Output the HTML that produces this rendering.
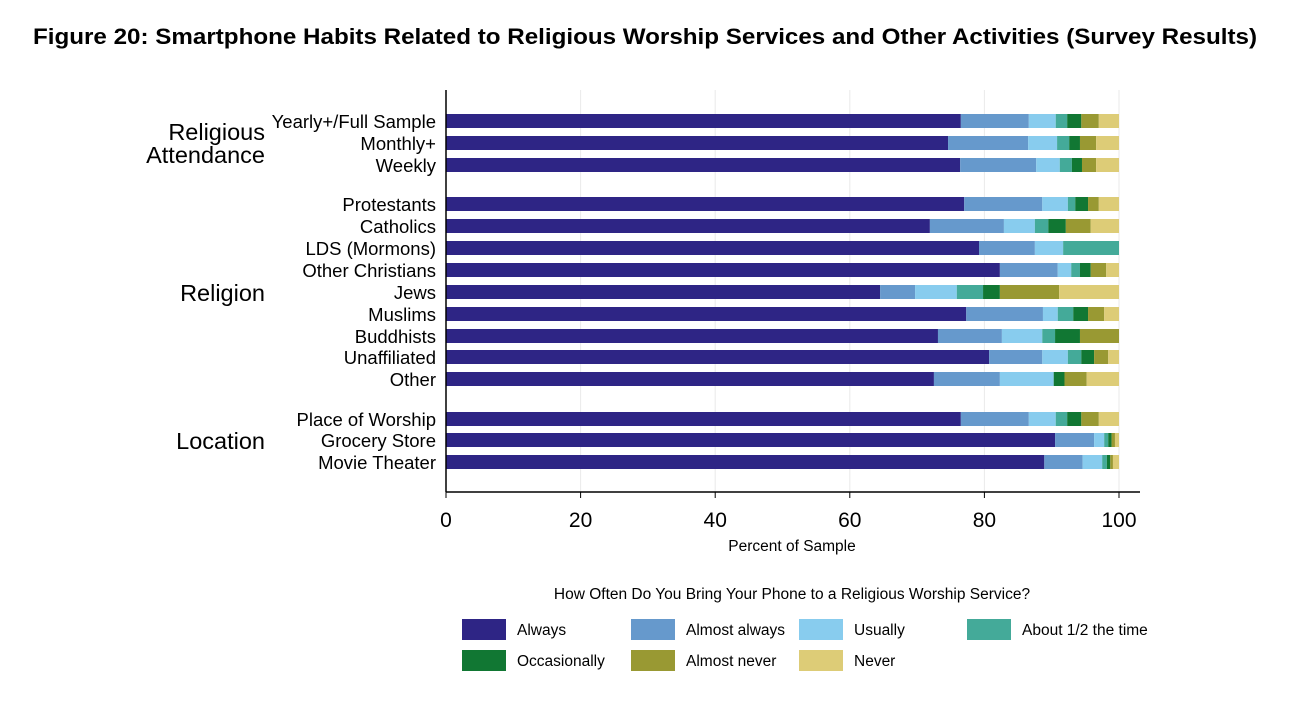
<!DOCTYPE html>
<html><head><meta charset="utf-8"><style>
body{margin:0;background:#fff;width:1304px;height:703px;overflow:hidden;font-family:"Liberation Sans",Arial,sans-serif}
</style></head><body>
<svg id="chart" width="1304" height="703" xmlns="http://www.w3.org/2000/svg" font-family="Liberation Sans, Arial, sans-serif">
<text x="33" y="44" textLength="1224" lengthAdjust="spacingAndGlyphs" font-size="22" font-weight="bold" fill="#000">Figure 20: Smartphone Habits Related to Religious Worship Services and Other Activities (Survey Results)</text>
<g id="grid"></g><g id="bars"></g><g id="labels"></g><g id="axis"></g><g id="legend"></g>
</svg>
<script>
const categories=["Yearly+/Full Sample","Monthly+","Weekly","Protestants","Catholics","LDS (Mormons)","Other Christians","Jews","Muslims","Buddhists","Unaffiliated","Other","Place of Worship","Grocery Store","Movie Theater"];
const seriesNames=["Always","Almost always","Usually","About 1/2 the time","Occasionally","Almost never","Never"];
const always=[76.5,74.6,76.4,77.0,71.9,79.2,82.3,64.5,77.3,73.1,80.7,72.5,76.5,90.5,88.9];
const almostAlways=[10.1,11.9,11.3,11.6,11.0,8.3,8.6,5.2,11.4,9.5,7.9,9.8,10.1,5.8,5.7];
const usually=[4.0,4.3,3.5,3.8,4.6,4.2,2.0,6.2,2.2,6.0,3.8,8.0,4.0,1.5,2.9];
const aboutHalf=[1.7,1.8,1.8,1.1,2.0,8.3,1.3,3.9,2.3,1.9,2.0,0,1.7,0.6,0.7];
const occasionally=[2.1,1.6,1.5,1.9,2.6,0,1.6,2.5,2.2,3.7,1.9,1.6,2.1,0.5,0.5];
const almostNever=[2.6,2.4,2.1,1.6,3.7,0,2.3,8.8,2.4,5.8,2.1,3.3,2.6,0.5,0.4];
const never=[3.0,3.4,3.4,3.0,4.2,0,1.9,8.9,2.2,0,1.6,4.8,3.0,0.6,0.9];
const xTicks=[0,20,40,60,80,100];
const groups=[["Religious","Attendance"],["Religion"],["Location"]];

const colors=["#2e2585","#6699cc","#88ccee","#44aa99","#117733","#999933","#ddcc77"];
const series=[always,almostAlways,usually,aboutHalf,occasionally,almostNever,never];
const NS="http://www.w3.org/2000/svg";
const X0=446,X1=1119;
const xs=v=>X0+(X1-X0)*v/100;
const rowY=[121,143,165,204,226,248,270,292,314,336,357,379,419,440,462];
const ys=i=>rowY[i];
function mk(t,a,p){const e=document.createElementNS(NS,t);for(const k in a)e.setAttribute(k,a[k]);p.appendChild(e);return e;}
const grid=document.getElementById('grid'),bars=document.getElementById('bars'),labels=document.getElementById('labels'),axis=document.getElementById('axis'),legend=document.getElementById('legend');
xTicks.forEach(t=>{if(t>0){const g=mk('line',{x1:xs(t),x2:xs(t),y1:90,y2:492,stroke:'#eaeaea','stroke-width':1},grid);

}
const tk=mk('line',{x1:xs(t),x2:xs(t),y1:492,y2:498,stroke:'#000'},axis);


const tl=mk('text',{x:xs(t),y:527,'text-anchor':'middle','font-size':21,fill:'#000'},axis);tl.textContent=t;

});
categories.forEach((c,i)=>{let acc=0;series.forEach((s,k)=>{const v=s[i];if(v>0){const r=mk('rect',{x:xs(acc),y:ys(i)-7,width:xs(acc+v)-xs(acc),height:14,fill:colors[k]},bars);

}acc+=v;});
const l=mk('text',{x:436,y:ys(i)+7,'text-anchor':'end','font-size':18.5,fill:'#000'},labels);l.textContent=c;

});
const gy=[[140,163],[301],[449]];
groups.forEach((g,i)=>g.forEach((w,j)=>{const t=mk('text',{x:265,y:gy[i][j],'text-anchor':'end','font-size':23.5,fill:'#000'},labels);t.textContent=w;

}));
const ya=mk('line',{x1:446,x2:446,y1:90,y2:492,stroke:'#000','stroke-width':1.5},axis);


const xa=mk('line',{x1:446,x2:1140,y1:492,y2:492,stroke:'#000','stroke-width':1.5},axis);


const xt=mk('text',{x:792,y:551,'text-anchor':'middle','font-size':15.5,fill:'#000'},axis);xt.textContent="Percent of Sample";


const lt=mk('text',{x:792,y:599,'text-anchor':'middle','font-size':15.5,fill:'#000'},legend);lt.textContent="How Often Do You Bring Your Phone to a Religious Worship Service?";


const lx=[462,631,799,967],lyy=[629,660];
seriesNames.forEach((n,k)=>{const x=lx[k%4],y=lyy[Math.floor(k/4)];
const sw=mk('rect',{x:x,y:y-10,width:44,height:21,fill:colors[k]},legend);


const t=mk('text',{x:x+55,y:y+6,'font-size':15.5,fill:'#000'},legend);t.textContent=n;

});
</script>
</body></html>
